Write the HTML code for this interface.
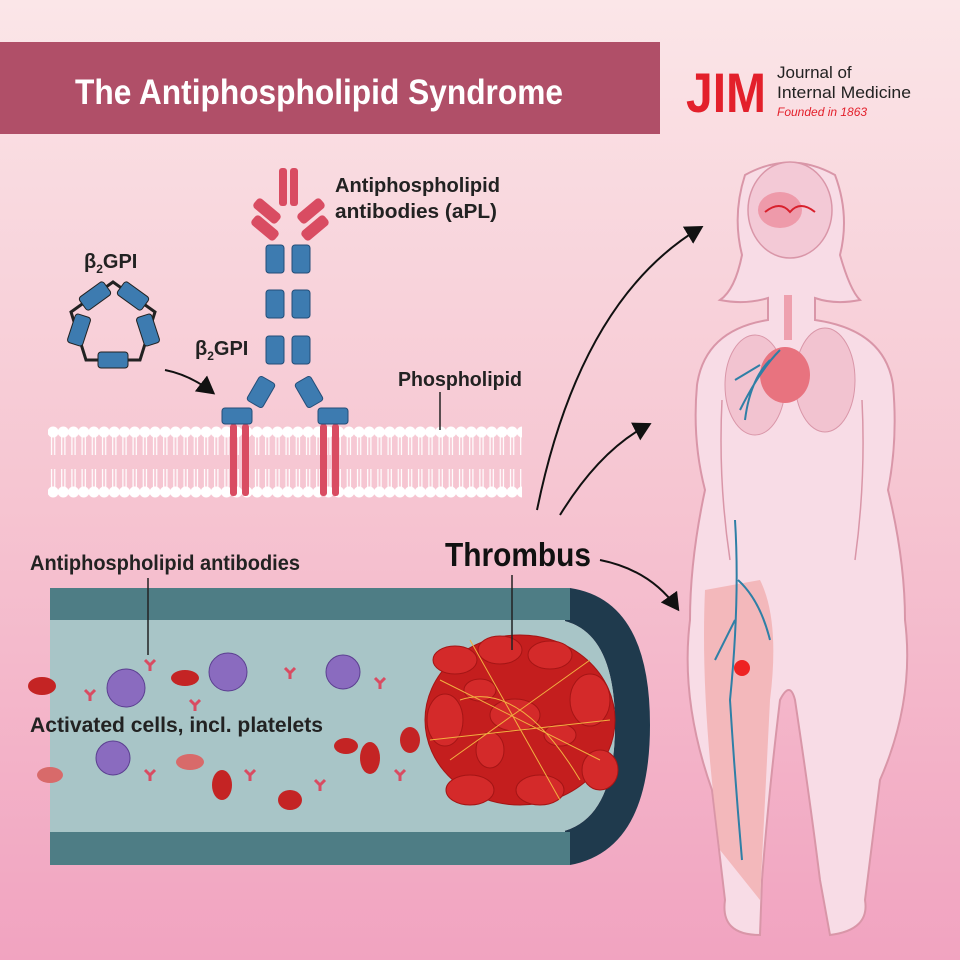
<!DOCTYPE html>
<html><head><meta charset="utf-8"><style>
html,body{margin:0;padding:0;width:960px;height:960px;overflow:hidden}
svg{display:block}
text{font-family:"Liberation Sans Narrow","Liberation Sans",sans-serif;font-weight:bold}
</style></head><body>
<svg width="960" height="960" viewBox="0 0 960 960" xmlns="http://www.w3.org/2000/svg">
<defs>
<linearGradient id="bg" x1="0" y1="0" x2="0" y2="1">
<stop offset="0" stop-color="#fbe6e8"/><stop offset="0.5" stop-color="#f6c6d2"/><stop offset="1" stop-color="#f1a3c0"/>
</linearGradient>
<pattern id="lip" x="48" y="425" width="10.2" height="80" patternUnits="userSpaceOnUse">
<circle cx="5.1" cy="7" r="5.5" fill="#fff"/><circle cx="5.1" cy="67" r="5.5" fill="#fff"/>
<path d="M3.5,12 V30 M6.7,12 V30 M3.5,44 V62 M6.7,44 V62" stroke="#fff" stroke-width="1.2"/>
</pattern>
<marker id="ah" markerWidth="10" markerHeight="10" refX="7" refY="5" orient="auto"><path d="M0,0 L9,5 L0,10 Z" fill="#111"/></marker>
</defs>
<rect width="960" height="960" fill="url(#bg)"/>
<!-- header -->
<rect x="0" y="42" width="660" height="92" fill="#b04f68"/>
<text x="75" y="104" font-size="35" fill="#fff" textLength="488" lengthAdjust="spacingAndGlyphs">The Antiphospholipid Syndrome</text>
<text x="686" y="112" font-size="56" fill="#e3202b" textLength="80" lengthAdjust="spacingAndGlyphs">JIM</text>
<text x="777" y="78" font-size="17" fill="#222" style="font-weight:normal">Journal of</text>
<text x="777" y="98" font-size="17" fill="#222" style="font-weight:normal" textLength="134" lengthAdjust="spacingAndGlyphs">Internal Medicine</text>
<text x="777" y="116" font-size="12" fill="#e3202b" style="font-weight:normal;font-style:italic">Founded in 1863</text>

<!-- body -->
<g fill="#f8dce6" stroke="#d996a8" stroke-width="2">
<path d="M745,175 Q790,150 835,175 Q850,215 840,255 Q850,290 860,300 Q835,305 815,298 L815,320 Q885,330 893,385 Q898,440 888,490 Q905,560 905,620 Q915,700 880,780 L865,900 Q870,930 830,935 L820,880 Q810,800 795,700 Q790,680 780,700 Q768,800 762,880 L760,935 Q720,935 725,900 L712,790 Q680,700 690,620 Q690,560 705,490 Q692,440 697,385 Q705,330 768,320 L768,298 Q745,305 720,300 Q735,290 742,255 Q732,215 745,175 Z"/>
</g>
<path d="M722,400 Q718,480 730,560 M862,400 Q866,480 855,560" stroke="#d996a8" stroke-width="1.5" fill="none"/>
<ellipse cx="790" cy="210" rx="42" ry="48" fill="#f3c9d6" stroke="#d996a8" stroke-width="1.5"/>
<ellipse cx="780" cy="210" rx="22" ry="18" fill="#ee9aaa"/>
<path d="M765,212 Q780,200 790,212 Q800,200 815,212" stroke="#d8202c" stroke-width="2" fill="none"/>
<ellipse cx="755" cy="385" rx="30" ry="50" fill="#f2c3d0" stroke="#d996a8"/>
<ellipse cx="825" cy="380" rx="30" ry="52" fill="#f2c3d0" stroke="#d996a8"/>
<ellipse cx="785" cy="375" rx="25" ry="28" fill="#e8737f"/>
<rect x="784" y="295" width="8" height="45" fill="#eea0ae"/>
<path d="M780,350 Q760,370 740,410 M770,360 Q750,380 745,420 M760,365 L735,380" stroke="#2f7fa6" stroke-width="2" fill="none"/>
<path d="M705,590 Q700,700 720,850 L760,900 L770,700 Q780,620 760,580 Z" fill="#f1a8a8" opacity="0.7"/>
<path d="M735,520 Q740,600 730,700 Q735,780 742,860 M738,580 Q760,600 770,640 M735,620 L715,660" stroke="#2f7fa6" stroke-width="2" fill="none"/>
<circle cx="742" cy="668" r="8" fill="#e22"/>

<!-- membrane -->
<rect x="48" y="425" width="474" height="80" fill="url(#lip)"/>
<!-- receptors -->
<g fill="#d94c62">
<rect x="230" y="424" width="7" height="72" rx="3"/><rect x="242" y="424" width="7" height="72" rx="3"/>
<rect x="320" y="424" width="7" height="72" rx="3"/><rect x="332" y="424" width="7" height="72" rx="3"/>
</g>
<!-- antibody -->
<g fill="#d94c62">
<rect x="279" y="168" width="8" height="38" rx="3"/><rect x="290" y="168" width="8" height="38" rx="3"/>
<rect x="252" y="205" width="30" height="12" rx="4" transform="rotate(40 267 211)"/>
<rect x="296" y="205" width="30" height="12" rx="4" transform="rotate(-40 311 211)"/>
<rect x="250" y="222" width="30" height="12" rx="4" transform="rotate(40 265 228)"/>
<rect x="300" y="222" width="30" height="12" rx="4" transform="rotate(-40 315 228)"/>
</g>
<g fill="#3d7bb0" stroke="#234d78" stroke-width="1">
<rect x="266" y="245" width="18" height="28" rx="3"/><rect x="292" y="245" width="18" height="28" rx="3"/>
<rect x="266" y="290" width="18" height="28" rx="3"/><rect x="292" y="290" width="18" height="28" rx="3"/>
<rect x="266" y="336" width="18" height="28" rx="3"/><rect x="292" y="336" width="18" height="28" rx="3"/>
<rect x="252" y="378" width="18" height="28" rx="3" transform="rotate(30 261 392)"/>
<rect x="300" y="378" width="18" height="28" rx="3" transform="rotate(-30 309 392)"/>
<rect x="222" y="408" width="30" height="16" rx="3"/>
<rect x="318" y="408" width="30" height="16" rx="3"/>
</g>
<!-- pentagon b2GPI -->
<g fill="#3d7bb0" stroke="#222" stroke-width="1">
<polygon points="113,282 155,312 140,360 86,360 71,312" fill="none" stroke="#222" stroke-width="3"/>
<rect x="80" y="288" width="30" height="16" rx="3" transform="rotate(-36 95 296)"/>
<rect x="118" y="288" width="30" height="16" rx="3" transform="rotate(36 133 296)"/>
<rect x="133" y="322" width="30" height="16" rx="3" transform="rotate(72 148 330)"/>
<rect x="98" y="352" width="30" height="16" rx="3"/>
<rect x="64" y="322" width="30" height="16" rx="3" transform="rotate(-72 79 330)"/>
</g>
<text x="84" y="268" font-size="20" fill="#222">β<tspan font-size="12" dy="5">2</tspan><tspan dy="-5">GPI</tspan></text>
<text x="195" y="355" font-size="20" fill="#222">β<tspan font-size="12" dy="5">2</tspan><tspan dy="-5">GPI</tspan></text>
<path d="M165,370 Q190,375 212,392" stroke="#111" stroke-width="2" fill="none" marker-end="url(#ah)"/>
<text x="335" y="192" font-size="20" fill="#222" textLength="165" lengthAdjust="spacingAndGlyphs">Antiphospholipid</text>
<text x="335" y="218" font-size="20" fill="#222" textLength="162" lengthAdjust="spacingAndGlyphs">antibodies (aPL)</text>
<text x="398" y="386" font-size="20" fill="#222" textLength="124" lengthAdjust="spacingAndGlyphs">Phospholipid</text>
<line x1="440" y1="392" x2="440" y2="430" stroke="#222" stroke-width="1.5"/>

<!-- vessel -->
<path d="M50,588 L570,588 Q650,600 650,725 Q650,850 570,865 L50,865 L50,832 L560,832 Q615,820 615,725 Q615,630 560,620 L50,620 Z" fill="#1f3a4d"/>
<rect x="50" y="588" width="520" height="32" fill="#4e7d85"/>
<rect x="50" y="832" width="520" height="33" fill="#4e7d85"/>
<rect x="50" y="620" width="515" height="212" fill="#a8c5c7"/>
<path d="M560,620 Q615,630 615,725 Q615,820 560,832 Z" fill="#a8c5c7"/>
<!-- thrombus -->
<g fill="#d42a2a" stroke="#a51515" stroke-width="1">
<ellipse cx="520" cy="720" rx="95" ry="85" fill="#c41e1e"/>
<ellipse cx="455" cy="660" rx="22" ry="14"/><ellipse cx="500" cy="650" rx="22" ry="14"/><ellipse cx="550" cy="655" rx="22" ry="14"/>
<ellipse cx="445" cy="720" rx="18" ry="26"/><ellipse cx="590" cy="700" rx="20" ry="26"/><ellipse cx="470" cy="790" rx="24" ry="15"/>
<ellipse cx="540" cy="790" rx="24" ry="15"/><ellipse cx="600" cy="770" rx="18" ry="20"/><ellipse cx="515" cy="715" rx="25" ry="16"/>
<ellipse cx="480" cy="690" rx="16" ry="11"/><ellipse cx="560" cy="735" rx="16" ry="11"/><ellipse cx="490" cy="750" rx="14" ry="18"/>
</g>
<path d="M440,680 L600,760 M450,760 L590,660 M470,640 L560,800 M430,740 L610,720 M460,700 Q520,680 580,780" stroke="#f2b040" stroke-width="1" fill="none"/>
<!-- cells -->
<g fill="#c42424">
<ellipse cx="42" cy="686" rx="14" ry="9"/><ellipse cx="185" cy="678" rx="14" ry="8"/><ellipse cx="370" cy="758" rx="10" ry="16"/>
<ellipse cx="346" cy="746" rx="12" ry="8"/><ellipse cx="222" cy="785" rx="10" ry="15"/><ellipse cx="290" cy="800" rx="12" ry="10"/>
<ellipse cx="410" cy="740" rx="10" ry="13"/><ellipse cx="50" cy="775" rx="13" ry="8" fill="#d86a6a"/><ellipse cx="190" cy="762" rx="14" ry="8" fill="#d86a6a"/>
</g>
<g fill="#8a6bbf" stroke="#5b3f90">
<circle cx="126" cy="688" r="19"/><circle cx="228" cy="672" r="19"/><circle cx="343" cy="672" r="17"/><circle cx="113" cy="758" r="17"/>
</g>
<g stroke="#d94c62" stroke-width="3" fill="none">
<path d="M145,660 l5,5 l5,-5 M150,665 v6"/><path d="M285,668 l5,5 l5,-5 M290,673 v6"/><path d="M375,678 l5,5 l5,-5 M380,683 v6"/>
<path d="M85,690 l5,5 l5,-5 M90,695 v6"/><path d="M190,700 l5,5 l5,-5 M195,705 v6"/><path d="M145,770 l5,5 l5,-5 M150,775 v6"/>
<path d="M245,770 l5,5 l5,-5 M250,775 v6"/><path d="M315,780 l5,5 l5,-5 M320,785 v6"/><path d="M395,770 l5,5 l5,-5 M400,775 v6"/>
</g>
<text x="30" y="570" font-size="21" fill="#222" textLength="270" lengthAdjust="spacingAndGlyphs">Antiphospholipid antibodies</text>
<line x1="148" y1="578" x2="148" y2="655" stroke="#222" stroke-width="1.5"/>
<text x="30" y="732" font-size="21" fill="#222" textLength="293" lengthAdjust="spacingAndGlyphs">Activated cells, incl. platelets</text>
<text x="445" y="566" font-size="33" fill="#111" textLength="146" lengthAdjust="spacingAndGlyphs">Thrombus</text>
<line x1="512" y1="575" x2="512" y2="650" stroke="#222" stroke-width="1.5"/>
<!-- arrows -->
<g stroke="#111" stroke-width="2" fill="none" marker-end="url(#ah)">
<path d="M537,510 Q580,300 700,228"/>
<path d="M560,515 Q600,450 648,425"/>
<path d="M600,560 Q650,570 677,608"/>
</g>
</svg>
</body></html>
